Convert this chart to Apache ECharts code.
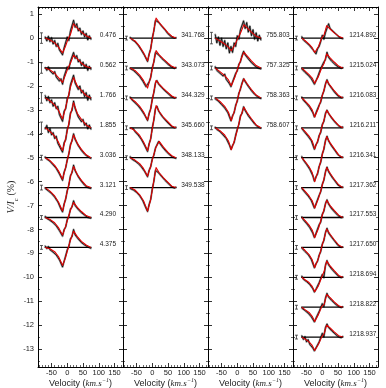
<!DOCTYPE html>
<html><head><meta charset="utf-8">
<script src="https://cdn.jsdelivr.net/npm/echarts@6/dist/echarts.min.js"></script>
<style>html,body{margin:0;padding:0;background:#fff}#c{width:386px;height:388px}</style>
</head><body><div id="c"></div>
<script>
// ---------- velocity grids (km/s) ----------
const obsVel  = [-70,-65,-60,-55,-50,-45,-40,-35,-30,-25,-20,-15,-10,-5,0,5,10,15,20,25,30,35,40,45,50,55,60,65,70,75];
const obsVel4 = [-65,-60,-55,-50,-45,-40,-35,-30,-25,-20,-15,-10,-5,0,5,10,15,20,25,30,35,40,45,50,55,60,65];
const modelVel1 = [-70,-55,-40,-28,-15,-6,3,10,20,32,45,60,75];
const modelVel2 = [-70,-55,-40,-28,-15,-6,2,12,22,35,50,62,75];
const modelVel3 = [-70,-55,-40,-28,-19,-8,2,10,21,32,45,60,75];
const modelVel4 = [-65,-55,-42,-32,-24,-12,-2,6,14,25,38,52,65];

// ---------- panel 1 ----------
const p1Phases  = ['0.476','0.562','1.766','1.855','3.036','3.121','4.290','4.375'];
const p1Offsets = [0,-1.25,-2.5,-3.75,-5,-6.25,-7.5,-8.75];
const p1Err     = [0.22,0.22,0.22,0.24,0.1,0.1,0.08,0.08];
const p1Model = [
 [0,-0.08,-0.2,-0.38,-0.62,-0.35,-0.02,0.15,0.6,0.42,0.25,0.1,0],
 [0,-0.08,-0.22,-0.4,-0.6,-0.3,0.02,0.2,0.54,0.38,0.2,0.06,0],
 [0,-0.12,-0.3,-0.52,-0.88,-0.45,0.05,0.45,0.85,0.5,0.3,0.1,0],
 [0,-0.15,-0.35,-0.6,-0.95,-0.5,0.05,0.55,1.05,0.6,0.35,0.12,0],
 [0,-0.12,-0.32,-0.55,-0.9,-0.45,0.05,0.5,0.95,0.6,0.35,0.12,0],
 [0,-0.15,-0.35,-0.6,-0.98,-0.5,0.02,0.45,0.88,0.55,0.3,0.08,0],
 [0,-0.08,-0.22,-0.42,-0.73,-0.4,0,0.3,0.63,0.42,0.25,0.08,0],
 [0,-0.06,-0.18,-0.38,-0.75,-0.45,-0.02,0.3,0.68,0.45,0.25,0.1,0]
];
const p1Obs = [
 [0.05,-0.12,0.08,-0.15,0.02,-0.25,-0.1,-0.35,-0.22,-0.5,-0.42,-0.7,-0.4,-0.45,0.05,-0.1,0.3,0.25,0.75,0.45,0.6,0.3,0.42,0.15,0.3,0.05,0.2,-0.08,0.1,-0.05],
 [0.02,-0.1,0.05,-0.12,-0.05,-0.25,-0.15,-0.38,-0.3,-0.55,-0.45,-0.68,-0.35,-0.3,0.05,-0.05,0.28,0.3,0.65,0.4,0.52,0.25,0.35,0.1,0.25,0.0,0.15,-0.1,0.08,-0.06],
 [0.1,-0.12,0.06,-0.2,-0.08,-0.35,-0.2,-0.45,-0.35,-0.7,-0.62,-0.98,-0.55,-0.45,-0.02,0.1,0.55,0.58,0.95,0.62,0.68,0.35,0.5,0.2,0.32,0.05,0.22,-0.1,0.12,-0.08],
 [-0.05,0.1,-0.2,-0.02,-0.3,-0.2,-0.45,-0.35,-0.65,-0.6,-0.9,-1.02,-0.62,-0.5,-0.05,0.12,0.62,0.72,1.12,0.8,0.75,0.45,0.52,0.25,0.35,0.1,0.2,-0.05,0.12,-0.06],
 [0.04,-0.06,-0.02,-0.15,-0.12,-0.3,-0.28,-0.45,-0.48,-0.68,-0.72,-0.95,-0.6,-0.42,-0.08,0.15,0.55,0.7,1.0,0.76,0.7,0.5,0.48,0.3,0.3,0.15,0.15,0.04,0.06,-0.03],
 [-0.04,0.03,-0.14,-0.1,-0.25,-0.24,-0.4,-0.42,-0.6,-0.66,-0.9,-1.02,-0.68,-0.48,-0.12,0.1,0.5,0.62,0.94,0.7,0.64,0.45,0.44,0.26,0.27,0.1,0.12,0.0,0.06,-0.04],
 [0.05,-0.04,0.0,-0.12,-0.08,-0.22,-0.2,-0.35,-0.36,-0.55,-0.58,-0.78,-0.5,-0.4,-0.08,0.05,0.35,0.44,0.7,0.5,0.5,0.33,0.36,0.2,0.22,0.1,0.12,0.0,0.05,-0.03],
 [0.06,-0.05,0.04,-0.1,-0.04,-0.2,-0.12,-0.32,-0.3,-0.52,-0.58,-0.82,-0.58,-0.5,-0.1,0.04,0.36,0.45,0.75,0.52,0.55,0.35,0.38,0.2,0.24,0.1,0.14,0.02,0.06,-0.04]
];

// ---------- panel 2 ----------
const p2Phases  = ['341.768','343.073','344.329','345.660','348.133','349.538'];
const p2Offsets = [0,-1.25,-2.5,-3.75,-5,-6.25];
const p2Err     = [0.08,0.08,0.08,0.08,0.08,0.08];
const p2Model = [
 [0,-0.12,-0.35,-0.6,-0.95,-0.5,0.1,0.84,0.65,0.45,0.22,0.08,0],
 [0,-0.1,-0.3,-0.52,-0.84,-0.42,0.08,0.73,0.55,0.38,0.2,0.07,0],
 [0,-0.15,-0.35,-0.58,-0.92,-0.5,0.05,0.73,0.58,0.4,0.22,0.08,0],
 [0,-0.12,-0.32,-0.58,-0.95,-0.5,0.1,0.93,0.68,0.45,0.25,0.08,0],
 [0,-0.1,-0.25,-0.45,-0.77,-0.4,0.0,0.45,0.68,0.45,0.22,0.08,0],
 [0,-0.1,-0.3,-0.55,-0.98,-0.55,0.05,0.84,0.62,0.42,0.22,0.06,0]
];
const p2Obs = [
 [0.03,-0.06,-0.05,-0.15,-0.17,-0.3,-0.33,-0.5,-0.54,-0.72,-0.8,-0.98,-0.66,-0.45,0.0,0.3,0.74,0.82,0.66,0.62,0.5,0.47,0.35,0.32,0.18,0.18,0.06,0.08,0.0,0.02],
 [-0.03,0.02,-0.1,-0.06,-0.22,-0.2,-0.36,-0.35,-0.55,-0.56,-0.78,-0.86,-0.58,-0.4,0.02,0.25,0.65,0.7,0.55,0.55,0.4,0.42,0.28,0.3,0.15,0.18,0.05,0.08,-0.02,0.03],
 [0.04,-0.08,-0.06,-0.2,-0.18,-0.33,-0.3,-0.5,-0.5,-0.7,-0.76,-0.95,-0.64,-0.46,-0.05,0.22,0.62,0.72,0.58,0.57,0.43,0.44,0.3,0.31,0.18,0.19,0.06,0.09,-0.01,0.02],
 [-0.02,-0.07,-0.03,-0.16,-0.15,-0.3,-0.28,-0.48,-0.5,-0.72,-0.77,-0.99,-0.66,-0.47,0.0,0.32,0.8,0.9,0.7,0.66,0.5,0.48,0.34,0.35,0.2,0.21,0.07,0.09,0.0,0.03],
 [0.05,-0.06,0.02,-0.14,-0.1,-0.24,-0.22,-0.38,-0.4,-0.56,-0.62,-0.8,-0.52,-0.38,-0.05,0.1,0.4,0.48,0.68,0.58,0.58,0.4,0.42,0.25,0.26,0.12,0.14,0.02,0.06,-0.03],
 [-0.04,0.03,-0.1,-0.05,-0.2,-0.18,-0.34,-0.36,-0.55,-0.6,-0.86,-1.0,-0.7,-0.5,-0.06,0.26,0.72,0.8,0.62,0.6,0.46,0.45,0.31,0.32,0.18,0.19,0.05,0.07,-0.02,0.02]
];

// ---------- panel 3 ----------
const p3Phases  = ['755.803','757.325','758.363','758.607'];
const p3Offsets = [0,-1.25,-2.5,-3.75];
const p3Err     = [0.24,0.08,0.08,0.08];
const p3Model = [
 [0,-0.12,-0.25,-0.38,-0.53,-0.3,0,0.2,0.56,0.42,0.25,0.08,0],
 [0,-0.15,-0.32,-0.5,-0.74,-0.4,0,0.3,0.66,0.5,0.3,0.1,0],
 [0,-0.15,-0.35,-0.6,-0.95,-0.5,0,0.4,0.8,0.58,0.35,0.12,0],
 [0,-0.12,-0.3,-0.55,-0.92,-0.5,0,0.45,0.86,0.62,0.38,0.12,0]
];
const p3Obs = [
 [0.15,-0.2,0.05,-0.3,0.0,-0.35,-0.1,-0.45,-0.2,-0.62,-0.35,-0.6,-0.2,-0.35,0.1,-0.05,0.35,0.3,0.72,0.4,0.65,0.25,0.5,0.1,0.35,-0.05,0.22,-0.12,0.12,-0.08],
 [0.06,-0.1,-0.04,-0.22,-0.14,-0.34,-0.25,-0.48,-0.4,-0.66,-0.78,-0.58,-0.52,-0.22,-0.12,0.16,0.25,0.52,0.7,0.55,0.6,0.38,0.44,0.22,0.3,0.1,0.16,0.0,0.08,-0.04],
 [-0.04,0.02,-0.14,-0.1,-0.28,-0.24,-0.42,-0.4,-0.62,-0.68,-0.96,-0.74,-0.62,-0.3,-0.14,0.2,0.36,0.62,0.8,0.68,0.66,0.48,0.48,0.3,0.3,0.15,0.15,0.04,0.06,-0.03],
 [0.03,-0.07,-0.04,-0.16,-0.14,-0.3,-0.26,-0.45,-0.48,-0.72,-0.9,-0.74,-0.62,-0.3,-0.06,0.14,0.5,0.6,0.88,0.72,0.7,0.5,0.5,0.33,0.32,0.16,0.15,0.04,0.07,-0.02]
];

// ---------- panel 4 ----------
const p4Phases  = ['1214.892','1215.024','1216.083','1216.211','1216.341','1217.362','1217.553','1217.650','1218.694','1218.822','1218.937'];
const p4Offsets = [0,-1.25,-2.5,-3.75,-5,-6.25,-7.5,-8.75,-10,-11.25,-12.5];
const p4Err     = [0.08,0.08,0.08,0.08,0.08,0.08,0.08,0.08,0.08,0.08,0.08];
const p4Model = [
 [0,-0.1,-0.25,-0.4,-0.6,-0.35,0,0.15,0.52,0.38,0.22,0.08,0],
 [0,-0.12,-0.28,-0.42,-0.64,-0.35,0,0.2,0.59,0.42,0.25,0.08,0],
 [0,-0.12,-0.3,-0.5,-0.8,-0.42,0,0.35,0.73,0.52,0.3,0.1,0],
 [0,-0.15,-0.35,-0.55,-0.88,-0.45,0,0.35,0.73,0.52,0.3,0.1,0],
 [0,-0.15,-0.38,-0.62,-1.0,-0.5,0,0.45,0.88,0.62,0.38,0.12,0],
 [0,-0.15,-0.35,-0.55,-0.85,-0.45,0,0.4,0.84,0.6,0.35,0.12,0],
 [0,-0.12,-0.32,-0.52,-0.84,-0.45,0,0.35,0.72,0.5,0.3,0.1,0],
 [0,-0.12,-0.3,-0.52,-0.84,-0.45,0,0.38,0.77,0.55,0.32,0.1,0],
 [0,-0.1,-0.22,-0.38,-0.6,-0.35,0,0.25,0.68,0.48,0.28,0.08,0],
 [0,-0.1,-0.22,-0.38,-0.6,-0.3,0.02,0.12,0.53,0.4,0.22,0.06,0],
 [0,-0.08,-0.2,-0.35,-0.56,-0.3,0,0.15,0.5,0.38,0.22,0.06,0]
];
const p4Obs = [
 [0.06,-0.08,0.0,-0.2,-0.15,-0.32,-0.3,-0.48,-0.52,-0.66,-0.45,-0.35,-0.15,0.12,-0.05,0.22,0.28,0.6,0.4,0.45,0.28,0.32,0.15,0.2,0.02,0.08,-0.03],
 [-0.04,-0.02,-0.18,-0.12,-0.3,-0.26,-0.45,-0.44,-0.68,-0.6,-0.38,-0.32,-0.02,-0.06,0.25,0.35,0.66,0.44,0.5,0.28,0.35,0.15,0.22,0.05,0.1,-0.02,0.02],
 [0.04,-0.1,-0.08,-0.24,-0.22,-0.4,-0.4,-0.62,-0.8,-0.62,-0.56,-0.3,-0.18,0.12,0.28,0.58,0.76,0.58,0.55,0.4,0.38,0.22,0.23,0.08,0.1,0.0,0.03],
 [-0.03,-0.05,-0.2,-0.18,-0.36,-0.34,-0.54,-0.6,-0.9,-0.7,-0.6,-0.32,-0.2,0.14,0.26,0.6,0.74,0.6,0.56,0.4,0.38,0.24,0.22,0.1,0.1,0.01,0.04],
 [0.05,-0.1,-0.1,-0.28,-0.28,-0.48,-0.5,-0.76,-0.98,-0.8,-0.68,-0.36,-0.2,0.16,0.34,0.72,0.9,0.7,0.66,0.48,0.47,0.3,0.28,0.12,0.12,0.02,0.03],
 [-0.04,-0.04,-0.2,-0.18,-0.35,-0.34,-0.54,-0.6,-0.86,-0.68,-0.6,-0.32,-0.18,0.14,0.3,0.66,0.86,0.66,0.64,0.45,0.44,0.28,0.27,0.1,0.12,0.02,0.03],
 [0.03,-0.1,-0.06,-0.25,-0.22,-0.42,-0.4,-0.66,-0.84,-0.66,-0.6,-0.3,-0.2,0.14,0.26,0.58,0.74,0.56,0.55,0.36,0.4,0.22,0.24,0.08,0.12,-0.01,0.03],
 [-0.03,-0.03,-0.17,-0.15,-0.3,-0.3,-0.5,-0.56,-0.86,-0.68,-0.58,-0.32,-0.18,0.14,0.28,0.62,0.8,0.6,0.6,0.42,0.42,0.25,0.25,0.08,0.1,0.0,0.02],
 [0.05,-0.08,-0.02,-0.18,-0.14,-0.3,-0.28,-0.48,-0.62,-0.5,-0.46,-0.22,-0.16,0.12,-0.02,0.5,0.7,0.52,0.52,0.34,0.36,0.2,0.2,0.06,0.08,-0.02,0.02],
 [-0.04,-0.02,-0.14,-0.12,-0.25,-0.22,-0.4,-0.42,-0.62,-0.46,-0.44,-0.18,-0.12,0.15,0.02,0.38,0.58,0.42,0.45,0.28,0.3,0.15,0.17,0.04,0.08,-0.02,0.02],
 [0.06,-0.1,0.02,-0.2,-0.1,-0.3,-0.25,-0.46,-0.58,-0.45,-0.42,-0.2,-0.14,0.16,0.0,0.4,0.55,0.4,0.46,0.26,0.32,0.14,0.18,0.02,0.09,-0.03,0.03]
];

const errBarVel = -82;   // velocity where the error bar is drawn
const labelVel  = 129;   // velocity at the centre of the phase label

const panels = [
  {vel: obsVel,  mvel: modelVel1, phases: p1Phases, offsets: p1Offsets, err: p1Err, model: p1Model, obs: p1Obs},
  {vel: obsVel,  mvel: modelVel2, phases: p2Phases, offsets: p2Offsets, err: p2Err, model: p2Model, obs: p2Obs},
  {vel: obsVel,  mvel: modelVel3, phases: p3Phases, offsets: p3Offsets, err: p3Err, model: p3Model, obs: p3Obs},
  {vel: obsVel4, mvel: modelVel4, phases: p4Phases, offsets: p4Offsets, err: p4Err, model: p4Model, obs: p4Obs}
];

const FONT = 'Liberation Sans, Arial, sans-serif';
const grids = [], xAxes = [], yAxes = [], series = [];
const gLeft = [38, 123, 208, 293];
panels.forEach((p, i) => {
  grids.push({left: gLeft[i], top: 7, width: 85, height: 360, containLabel: false, outerBoundsMode: 'none'});
  const tick = {show: true, inside: true, length: 4, lineStyle: {color: '#000', width: 0.8}};
  const minor = {show: true, splitNumber: 5, length: 2, lineStyle: {color: '#000', width: 0.6}};
  const line = {show: true, onZero: false, lineStyle: {color: '#000', width: 1}};
  xAxes.push({
    gridIndex: i, type: 'value', min: -93, max: 177, splitNumber: 5, position: 'bottom',
    axisLine: line, axisTick: tick, minorTick: minor, splitLine: {show: false},
    axisLabel: {fontSize: 7.5, color: '#222', margin: 2, fontFamily: FONT, showMinLabel: false, showMaxLabel: false},
    name: '{n|Velocity (}{i|km.s}{s|\u22121}{n|)}', nameLocation: 'middle', nameGap: 10, nameMoveOverlap: false,
    nameTextStyle: {rich: {
      n: {fontSize: 9, fontFamily: FONT, color: '#222', lineHeight: 11, verticalAlign: 'bottom'},
      i: {fontSize: 9, fontFamily: 'Liberation Serif, serif', fontStyle: 'italic', color: '#222', lineHeight: 11, verticalAlign: 'bottom'},
      s: {fontSize: 6, fontFamily: 'Liberation Serif, serif', fontStyle: 'italic', color: '#222', lineHeight: 7, verticalAlign: 'top'}
    }}
  });
  xAxes.push({
    gridIndex: i, type: 'value', min: -93, max: 177, splitNumber: 5, position: 'top',
    axisLine: line, axisTick: tick, minorTick: minor, splitLine: {show: false}, axisLabel: {show: false}
  });
  const yt = {show: true, inside: true, length: 4, lineStyle: {color: '#000', width: 0.8}};
  const ym = {show: true, splitNumber: 2, length: 2, lineStyle: {color: '#000', width: 0.6}};
  yAxes.push({
    gridIndex: i, type: 'value', min: -13.75, max: 1.3, splitNumber: 15, position: 'left',
    axisLine: line, axisTick: yt, minorTick: ym, splitLine: {show: false},
    axisLabel: {show: i === 0, fontSize: 7.5, color: '#222', margin: 4, fontFamily: FONT, showMinLabel: false, showMaxLabel: false}
  });
  yAxes.push({
    gridIndex: i, type: 'value', min: -13.75, max: 1.3, splitNumber: 15, position: 'right',
    axisLine: line, axisTick: yt, minorTick: ym, splitLine: {show: false}, axisLabel: {show: false}
  });
  const xi = 2 * i, yi = 2 * i;
  p.offsets.forEach((off, k) => {
    const obsData = p.vel.map((v, j) => [v, p.obs[k][j] + off]);
    const base = {type: 'line', xAxisIndex: xi, yAxisIndex: yi, symbol: 'none', showSymbol: false, silent: true, animation: false};
    series.push(Object.assign({}, base, {data: obsData, lineStyle: {color: '#9a9a9a', width: 2, join: 'round', cap: 'round'}, z: 2}));
    series.push(Object.assign({}, base, {data: obsData, lineStyle: {color: '#000', width: 0.8, join: 'round'}, z: 3}));
    series.push(Object.assign({}, base, {data: [[p.vel[0] - 2, off], [p.vel[p.vel.length - 1] + 2, off]], lineStyle: {color: '#000', width: 1.3}, z: 4}));
    series.push(Object.assign({}, base, {data: p.mvel.map((v, j) => [v, p.model[k][j] + off]), lineStyle: {color: '#e00000', width: 1.1, join: 'round'}, z: 5}));
  });
  series.push({
    type: 'custom', xAxisIndex: xi, yAxisIndex: yi, silent: true, animation: false, z: 6,
    data: p.offsets.map((off, k) => [errBarVel, off, p.err[k]]),
    renderItem: (params, api) => {
      const x = api.value(0), y = api.value(1), h = api.value(2);
      const a = api.coord([x, y + h]), b = api.coord([x, y - h]);
      const st = {stroke: '#333', lineWidth: 0.8};
      return {type: 'group', children: [
        {type: 'line', shape: {x1: a[0], y1: a[1], x2: b[0], y2: b[1]}, style: st},
        {type: 'line', shape: {x1: a[0] - 1.5, y1: a[1], x2: a[0] + 1.5, y2: a[1]}, style: st},
        {type: 'line', shape: {x1: b[0] - 1.5, y1: b[1], x2: b[0] + 1.5, y2: b[1]}, style: st}
      ]};
    }
  });
  series.push({
    type: 'custom', xAxisIndex: xi, yAxisIndex: yi, silent: true, animation: false, z: 7,
    data: p.offsets.map((off, k) => [labelVel, off + 0.12, k]),
    renderItem: (params, api) => {
      const c = api.coord([api.value(0), api.value(1)]);
      return {type: 'text', x: c[0], y: c[1], style: {
        text: p.phases[params.dataIndex], fontSize: 6.5, fontFamily: FONT, fill: '#222',
        align: 'center', verticalAlign: 'middle'}};
    }
  });
});

const chart = echarts.init(document.getElementById('c'), null, {renderer: 'canvas'});
chart.setOption({
  animation: false,
  backgroundColor: '#fff',
  grid: grids, xAxis: xAxes, yAxis: yAxes, series: series,
  graphic: [{
    type: 'text', x: 13, y: 197, rotation: Math.PI / 2,
    style: {
      text: '{i|V/I}{s|c}{n| (%)}', align: 'center', verticalAlign: 'middle',
      rich: {
        i: {fontSize: 10, fontFamily: 'Liberation Serif, serif', fontStyle: 'italic', fill: '#222', lineHeight: 13, verticalAlign: 'top'},
        s: {fontSize: 7, fontFamily: 'Liberation Serif, serif', fontStyle: 'italic', fill: '#222', lineHeight: 9, verticalAlign: 'bottom'},
        n: {fontSize: 10, fontFamily: 'Liberation Serif, serif', fill: '#222', lineHeight: 13, verticalAlign: 'top'}
      }
    }
  }]
});
</script>
</body></html>
